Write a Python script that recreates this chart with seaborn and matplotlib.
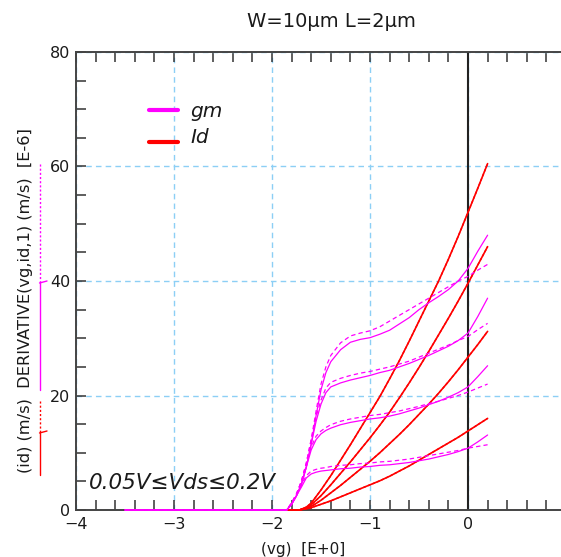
import matplotlib
matplotlib.use("Agg")
import matplotlib.pyplot as plt
from matplotlib.lines import Line2D
from matplotlib.ticker import MultipleLocator
import seaborn as sns

# ---------------- data ----------------
vg_gm = [-3.5, -1.85, -1.8, -1.75, -1.7, -1.65, -1.6, -1.55, -1.5, -1.45, -1.4,
         -1.3, -1.2, -1.1, -1.0, -0.9, -0.8, -0.7, -0.6, -0.5, -0.4, -0.3, -0.2,
         -0.1, 0.0, 0.1, 0.2]

gm_020_solid = [0, 0, 1.0, 2.5, 4.5, 7.5, 11.5, 16.5, 21.0, 24.0, 25.9, 28.0, 29.3,
                29.8, 30.1, 30.7, 31.4, 32.5, 33.6, 35.0, 36.2, 37.3, 38.5, 40.0,
                42.2, 45.2, 48.0]
gm_020_dashed = [0, 0, 1.2, 2.8, 5.0, 8.2, 12.3, 17.3, 22.0, 25.0, 27.0, 29.2, 30.4,
                 30.9, 31.3, 32.0, 33.0, 34.0, 35.0, 36.0, 37.0, 38.0, 39.0, 40.0,
                 40.8, 41.9, 42.9]
gm_015_solid = [0, 0, 1.0, 2.5, 4.5, 7.5, 11.5, 15.5, 18.5, 20.5, 21.5, 22.2, 22.7,
                23.1, 23.5, 24.0, 24.4, 25.0, 25.6, 26.3, 27.0, 27.8, 28.6, 29.6,
                30.9, 33.8, 37.0]
gm_015_dashed = [0, 0, 1.2, 2.8, 5.0, 8.2, 12.3, 16.3, 19.2, 21.3, 22.3, 23.0, 23.5,
                 23.9, 24.2, 24.6, 25.0, 25.5, 26.0, 26.7, 27.4, 28.1, 28.8, 29.6,
                 30.3, 31.5, 32.6]
gm_010_solid = [0, 0, 1.0, 2.5, 4.5, 7.5, 10.5, 12.3, 13.3, 13.9, 14.3, 14.9, 15.3,
                15.6, 15.9, 16.1, 16.4, 16.8, 17.3, 17.8, 18.4, 19.0, 19.7, 20.5,
                21.5, 23.3, 25.2]
gm_010_dashed = [0, 0, 1.2, 2.8, 5.0, 8.0, 11.0, 12.9, 13.8, 14.4, 14.9, 15.5, 15.9,
                 16.2, 16.5, 16.7, 17.0, 17.3, 17.7, 18.1, 18.6, 19.0, 19.5, 20.0,
                 20.6, 21.3, 22.0]
gm_005_solid = [0, 0, 1.0, 2.5, 4.0, 5.6, 6.3, 6.6, 6.8, 6.9, 7.0, 7.2, 7.3,
                7.5, 7.6, 7.8, 7.9, 8.1, 8.3, 8.6, 8.9, 9.3, 9.7, 10.2,
                10.8, 11.9, 13.1]
gm_005_dashed = [0, 0, 1.2, 2.8, 4.4, 6.0, 6.8, 7.1, 7.3, 7.4, 7.6, 7.8, 7.9,
                 8.1, 8.2, 8.4, 8.5, 8.7, 8.9, 9.2, 9.5, 9.8, 10.1, 10.4,
                 10.8, 11.1, 11.4]

vg_id = [-1.87, -1.72, -1.65, -1.6, -1.5, -1.4, -1.3, -1.2, -1.1, -1.0, -0.9, -0.8,
         -0.7, -0.6, -0.5, -0.4, -0.3, -0.2, -0.1, 0.0, 0.1, 0.2]
id_020 = [0, 0, 0.5, 1.2, 3.5, 6.0, 8.7, 11.4, 14.2, 17.0, 19.8, 22.9, 26.1, 29.5,
          33.0, 36.5, 40.0, 43.8, 47.8, 52.0, 56.2, 60.5]
id_015 = [0, 0, 0.4, 0.9, 2.5, 4.4, 6.4, 8.4, 10.5, 12.6, 14.8, 17.1, 19.6, 22.2,
          24.9, 27.7, 30.6, 33.5, 36.5, 39.6, 42.8, 46.0]
id_010 = [0, 0, 0.3, 0.6, 1.7, 3.0, 4.3, 5.7, 7.1, 8.5, 10.0, 11.6, 13.2, 14.9,
          16.7, 18.5, 20.4, 22.4, 24.5, 26.7, 28.9, 31.2]
id_005 = [0, 0, 0.2, 0.4, 1.0, 1.6, 2.3, 3.0, 3.7, 4.4, 5.1, 5.9, 6.8, 7.7,
          8.7, 9.7, 10.7, 11.7, 12.7, 13.8, 14.9, 16.0]

x_ticks = [-4, -3, -2, -1, 0]
y_ticks = [0, 20, 40, 60, 80]
title_text = "W=10µm L=2µm"
xlabel_text = "(vg)  [E+0]"
ylabel_text = "(id) (m/s)  DERIVATIVE(vg,id,1) (m/s)  [E-6]"
note_text = "0.05V≤Vds≤0.2V"
legend_labels = ["gm", "Id"]

GM = "#ff00ff"
ID = "#ff0000"
INK = "#1a1a1a"

# ---------------- figure ----------------
sns.set_style("white")
plt.rcParams["font.family"] = ["DejaVu Sans"]
plt.rcParams["text.color"] = INK
plt.rcParams["xtick.color"] = INK
plt.rcParams["ytick.color"] = INK

W, H = 561, 557
fig = plt.figure(figsize=(W / 100, H / 100), dpi=100)
ax = fig.add_axes([76 / W, 47 / H, 485 / W, 458 / H])

def px(x, y):
    """figure pixel (from top-left) -> figure fraction"""
    return x / W, 1 - y / H

# Id curves
for ys in [id_020, id_015, id_010, id_005]:
    sns.lineplot(x=vg_id, y=ys, ax=ax, color=ID, linewidth=1.2,
                 estimator=None, sort=False, zorder=5, clip_on=False)
    sns.lineplot(x=vg_id, y=ys, ax=ax, color=ID, linewidth=1.0,
                 linestyle=(0, (2, 1.5)), estimator=None, sort=False, zorder=5,
                 clip_on=False)
# gm curves
for ys in [gm_020_solid, gm_015_solid, gm_010_solid, gm_005_solid]:
    sns.lineplot(x=vg_gm, y=ys, ax=ax, color=GM, linewidth=0.9,
                 estimator=None, sort=False, zorder=6, clip_on=False)
for ys in [gm_020_dashed, gm_015_dashed, gm_010_dashed, gm_005_dashed]:
    sns.lineplot(x=vg_gm, y=ys, ax=ax, color=GM, linewidth=0.9,
                 linestyle=(0, (3.5, 2.5)), estimator=None, sort=False, zorder=6,
                 clip_on=False)

ax.axvline(0, color="#222222", linewidth=1.5, zorder=2)

ax.set_xlim(-4, 4.949 - 4)
ax.set_ylim(0, 80)
ax.set_xticks(x_ticks)
ax.set_yticks(y_ticks)
ax.xaxis.set_minor_locator(MultipleLocator(0.2))
ax.yaxis.set_minor_locator(MultipleLocator(5))
ax.tick_params(which="both", direction="in", length=7.2, width=1.1,
               color="#333333", top=True, right=False, bottom=True, left=True,
               labelsize=11.5, pad=4)
ax.tick_params(axis="x", which="major", pad=5)
ax.grid(True, which="major", color="#8ccff5", linestyle=(0, (4, 3)), linewidth=1.0)
ax.set_axisbelow(True)
for s in ["left", "top", "bottom"]:
    ax.spines[s].set_color("#444444")
    ax.spines[s].set_linewidth(1.4)
ax.spines["right"].set_visible(False)
ax.set_xlabel("")
ax.set_ylabel("")

# texts
fig.text(*px(331, 27), title_text, ha="center", va="baseline", fontsize=14)
fig.text(*px(303, 554), xlabel_text, ha="center", va="baseline", fontsize=11)
fig.text(*px(26, 301), ylabel_text, ha="center", va="center", rotation=90,
         fontsize=11.7)
fig.text(*px(89, 489), note_text, ha="left", va="baseline", fontsize=15.5,
         style="italic")

# y-label underlines
def fline(x0, y0, x1, y1, **kw):
    a = px(x0, y0)
    b = px(x1, y1)
    fig.add_artist(Line2D([a[0], b[0]], [a[1], b[1]], **kw))

fline(39.5, 433, 39.5, 475, color=ID, lw=1.0)
fline(39.5, 401, 39.5, 433, color=ID, lw=1.0, linestyle=(0, (1.5, 1.5)))
fline(39.5, 433, 47, 431, color=ID, lw=1.0)
fline(39.5, 283, 39.5, 390, color=GM, lw=1.0)
fline(39.5, 164, 39.5, 283, color=GM, lw=1.0, linestyle=(0, (1.5, 1.5)))
fline(39.5, 283, 47, 281, color=GM, lw=1.0)

# legend
fline(149, 109.5, 178, 109.5, color=GM, lw=3.0)
fline(149, 141.5, 178, 141.5, color=ID, lw=3.0)
fig.text(*px(190, 117), legend_labels[0], ha="left", va="baseline",
         fontsize=14.5, style="italic")
fig.text(*px(190, 143), legend_labels[1], ha="left", va="baseline",
         fontsize=14.5, style="italic")

fig.savefig("out.png", dpi=100)
